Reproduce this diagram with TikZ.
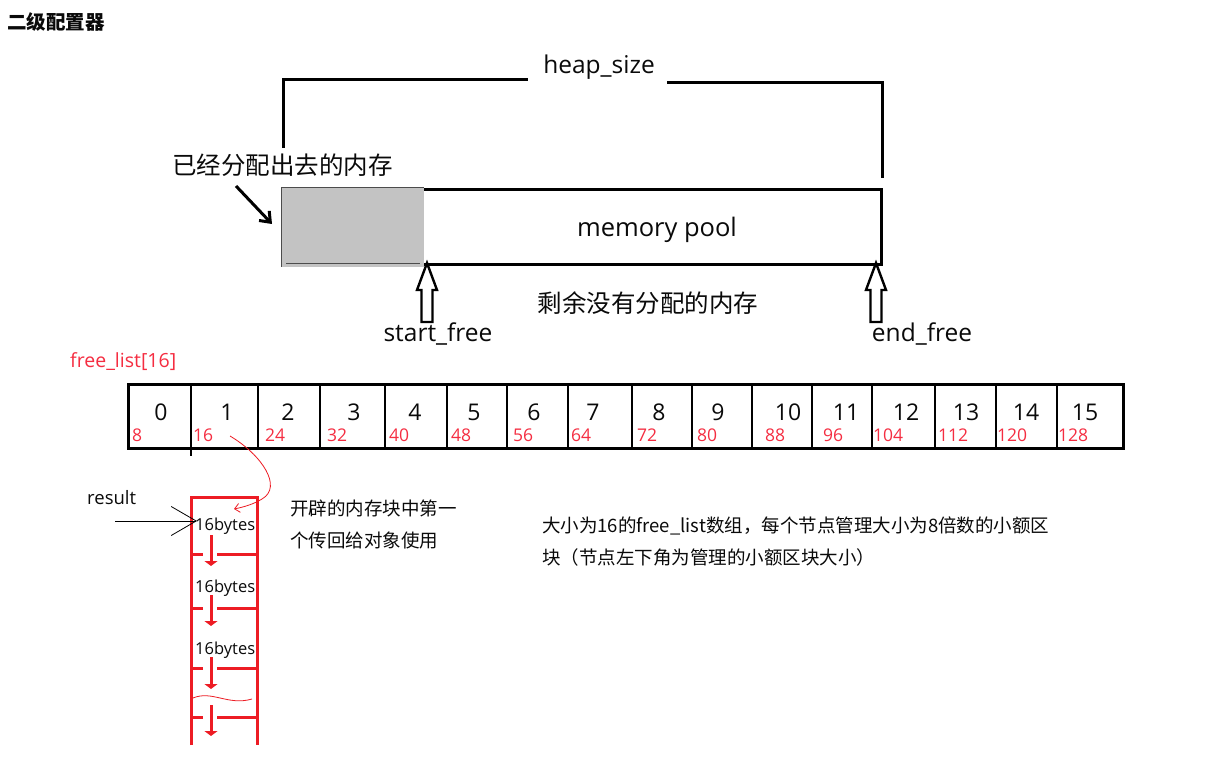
\documentclass[tikz,border=0pt]{standalone}
\usepackage{fontspec}
\setmainfont{Open Sans}
\newfontfamily\cjk{Noto Sans CJK SC}
\usetikzlibrary{arrows.meta}
\definecolor{paintred}{RGB}{237,28,36}
\definecolor{txtred}{RGB}{245,45,65}
\definecolor{poolgray}{RGB}{195,195,195}
\definecolor{ink}{RGB}{10,10,10}
\tikzset{
  heavy/.style={line width=3pt, draw=black},
  cellline/.style={line width=2.6pt, draw=black},
  redline/.style={line width=3pt, draw=paintred},
  hollowarrow/.style={line width=2.4pt, draw=black, fill=white, line join=miter},
  idx/.style={anchor=base, text=ink, font=\fontsize{23}{26}\selectfont, inner sep=0pt},
  sz/.style={anchor=base west, text=txtred, font=\fontsize{17.5}{20}\selectfont, inner sep=0pt},
  bytes/.style={anchor=west, text=ink, font=\fontsize{16.5}{19}\selectfont, inner sep=0pt},
  cjkbig/.style={text=ink, font=\cjk\fontsize{24.5}{28}\selectfont, inner sep=0pt},
  cjksmall/.style={anchor=west, text=ink, font=\cjk\fontsize{18.5}{22}\selectfont, inner sep=0pt},
  latinbig/.style={text=ink, font=\fontsize{24.5}{28}\selectfont, inner sep=0pt},
}
\begin{document}
\begin{tikzpicture}[x=1pt,y=-1pt]
\useasboundingbox[fill=white] (0,0) rectangle (1221,767);

% title
\node[anchor=west, text=ink, font=\cjk\bfseries\fontsize{19.5}{22}\selectfont, inner sep=0pt] (title) at (7,22) {二级配置器};

% heap_size bracket
\node[latinbig] (heap) at (599,67) {heap\_size};
\coordinate (hlb) at (283,148);
\coordinate (hlt) at (283,80);
\coordinate (hle) at (528,80);
\coordinate (hrs) at (667,83);
\coordinate (hrt) at (882,83);
\coordinate (hrb) at (882,178);
\draw[heavy] (hlb) -- (hlt) -- (hle);
\draw[heavy] (hrs) -- (hrt) -- (hrb);

% memory pool
\fill[poolgray] (281,188) rectangle (424,267);
\draw[line width=1pt, draw=black!70] (281,267) -- (281,188) -- (424,188);
\draw[line width=1pt, draw=black!70] (286,264) -- (420,264);
\draw[heavy] (424,190) -- (881,190) -- (881,265) -- (424,265);
\node[latinbig, font=\fontsize{25.5}{29}\selectfont] (pool) at (657,230) {memory pool};

\node[cjkbig, anchor=west] (used) at (172,165) {已经分配出去的内存};
\coordinate (ua) at (236,186);
\coordinate (ub) at (272,224);
\draw[heavy, -{Straight Barb[length=9pt,width=14pt]}] (ua) -- (ub);

% hollow arrows
\draw[hollowarrow] (427,263) -- (437,290) -- (432.5,290) -- (432.5,322) -- (421.5,322) -- (421.5,290) -- (417,290) -- cycle;
\draw[hollowarrow] (876,263) -- (886,290) -- (881.5,290) -- (881.5,322) -- (870.5,322) -- (870.5,290) -- (866,290) -- cycle;

\node[cjkbig] (rest) at (648,303) {剩余没有分配的内存};
\node[latinbig] (sf) at (438,334) {start\_free};
\node[latinbig] (ef) at (922,334) {end\_free};

% free list
\node[anchor=west, text=txtred, font=\fontsize{19.5}{22}\selectfont, inner sep=0pt] (fl) at (70,362) {free\_list[16]};
\draw[heavy] (128,384) rectangle (1123,448);
\foreach \x in {258,320,385,447,507,568,632,692,752,812,872,935,996,1057}
  \draw[cellline] (\x,384) -- (\x,448);
\draw[cellline] (191,384) -- (191,456);
\foreach \n/\nx/\r/\rx in {0/161/8/132,1/227/16/193,2/288/24/265,3/354/32/327,4/415/40/389,5/474/48/451,6/534/56/513,7/593/64/571,8/659/72/637,9/718/80/697,10/788/88/765,11/846/96/823,12/906/104/873,13/966/112/938,14/1026/120/997,15/1085/128/1058}
{
  \node[idx] (n\n) at (\nx,420) {\n};
  \node[sz] (s\n) at (\rx,441) {\r};
}

% red curved pointer
\coordinate (c0) at (230,436);
\coordinate (c1) at (262,499);
\coordinate (c2) at (234,509);
\draw[paintred, line width=0.8pt, -{Straight Barb[length=5pt,width=9pt]}] (c0) .. controls (262,455) and (283,487) .. (c1) .. controls (254,504) and (244,507) .. (c2);

% linked blocks
\draw[redline] (191,745) -- (191,497) -- (257,497) -- (257,745);
\foreach \y in {554,608,668,717}
{
  \draw[redline] (191,\y) -- (203,\y);
  \draw[redline] (217,\y) -- (257,\y);
}
\draw[paintred, line width=0.8pt] (193,698) .. controls (212,690) and (228,706) .. (252,699);
\foreach \ya/\yb in {535/566,595/626,657/689,705/736}
  \draw[redline, -{Triangle[width=13pt,length=5pt]}] (211,\ya) -- (211,\yb);

\node[bytes] (b1) at (195,526) {16bytes};
\node[bytes] (b2) at (195,588) {16bytes};
\node[bytes] (b3) at (195,650) {16bytes};

% result pointer
\node[anchor=west, text=ink, font=\fontsize{18.5}{21}\selectfont, inner sep=0pt] (res) at (87,498) {result};
\coordinate (r0) at (115,521);
\coordinate (r1) at (197,521);
\draw[black, line width=0.8pt, -{Straight Barb[length=25pt,width=29pt,line width=0.8pt]}] (r0) -- (r1);

% notes
\node[cjksmall] (note1) at (290,508) {开辟的内存块中第一};
\node[cjksmall] (note2) at (290,540) {个传回给对象使用};
\node[cjksmall] (desc1) at (542,526) {大小为16的free\_list数组，每个节点管理大小为8倍数的小额区};
\node[cjksmall] (desc2) at (542,557) {块（节点左下角为管理的小额区块大小）};
\end{tikzpicture}
\end{document}
